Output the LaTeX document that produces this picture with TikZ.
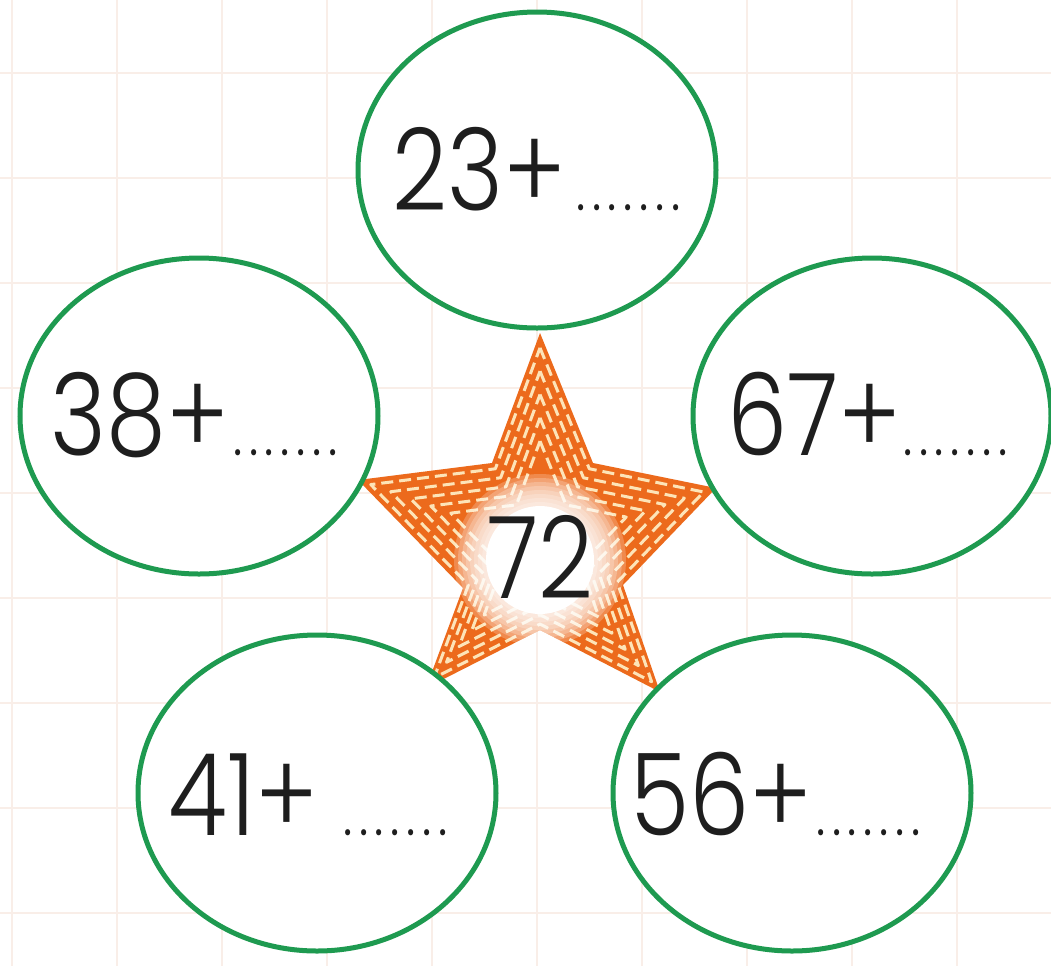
\documentclass[tikz,border=0pt]{standalone}
\usepackage{fontspec}
\setmainfont{Poppins}
\newfontfamily\numfont[FakeStretch=0.84, UprightFont=* Light]{Poppins}
\usetikzlibrary{shapes.geometric}
\definecolor{grn}{HTML}{1E9A50}
\definecolor{org}{HTML}{EC6A1C}
\definecolor{cream}{HTML}{FDE4B8}
\definecolor{gridc}{HTML}{F9EEE8}
\definecolor{ink}{HTML}{1E1E1E}
\newcommand{\dotrow}{.\kern3.3pt.\kern3.3pt.\kern3.3pt.\kern3.3pt.\kern3.3pt.\kern3.3pt.}
\tikzset{
  gridline/.style={gridc, line width=1pt},
  ovalnode/.style={ellipse, draw=grn, line width=2.5pt, fill=white, minimum width=179pt, minimum height=158pt},
  numtext/.style={anchor=base west, inner sep=0pt, text=ink, font=\numfont\fontsize{57}{57}\selectfont},
  dottext/.style={anchor=base west, inner sep=0pt, text=ink, font=\numfont\fontsize{30}{30}\selectfont},
  stitch/.style={cream, line width=1.5pt, dash pattern=on 6pt off 3pt, line join=round}
}
\newcommand{\starshape}{(540,333) -- (593,463) -- (716,488) -- (623,585) -- (660,692) -- (540,630) -- (426,688) -- (463,588) -- (358,480) -- (492,463) -- cycle}
\begin{document}
\begin{tikzpicture}[x=0.5pt, y=-0.5pt]
\useasboundingbox (0,0) rectangle (1051,966);
\fill[white] (0,0) rectangle (1051,966);
% grid
\foreach \gx in {12,117,...,1050} \draw[gridline] (\gx,0) -- (\gx,966);
\foreach \gy in {73,178,...,966} \draw[gridline] (0,\gy) -- (1051,\gy);
% star
\fill[org] \starshape;
\foreach \s in {0.93,0.82,0.71,0.60,0.49} {
  \begin{scope}[shift={(540,545)}, scale=\s, shift={(-540,-545)}]
    \draw[stitch] \starshape;
  \end{scope}
}
\begin{scope}
  \clip \starshape;
  \foreach \r in {86,82,...,58} \fill[white, opacity=0.22] (540,560) circle[radius=\r*0.5pt];
  \fill[white] (540,560) circle[radius=27pt];
\end{scope}
% ovals
\node[ovalnode] (top) at (537,170) {};
\node[ovalnode] (left) at (199,416) {};
\node[ovalnode] (right) at (872,416) {};
\node[ovalnode] (bl) at (317,793) {};
\node[ovalnode] (br) at (792,793) {};
% texts
\node[numtext] (t1) at (392,210) {23+};
\node[dottext] (d1) at (576,210) {\dotrow};
\node[numtext] (t2) at (50,455) {38+};
\node[dottext] (d2) at (233,455) {\dotrow};
\node[numtext] (t3) at (727,455) {67+};
\node[dottext] (d3) at (903,455) {\dotrow};
\node[numtext] (t4) at (168,835) {41+};
\node[dottext] (d4) at (343,835) {\dotrow};
\node[numtext] (t5) at (630,835) {56+};
\node[dottext] (d5) at (816,835) {\dotrow};
\node[numtext] (c) at (487,598) {72};
\end{tikzpicture}
\end{document}
